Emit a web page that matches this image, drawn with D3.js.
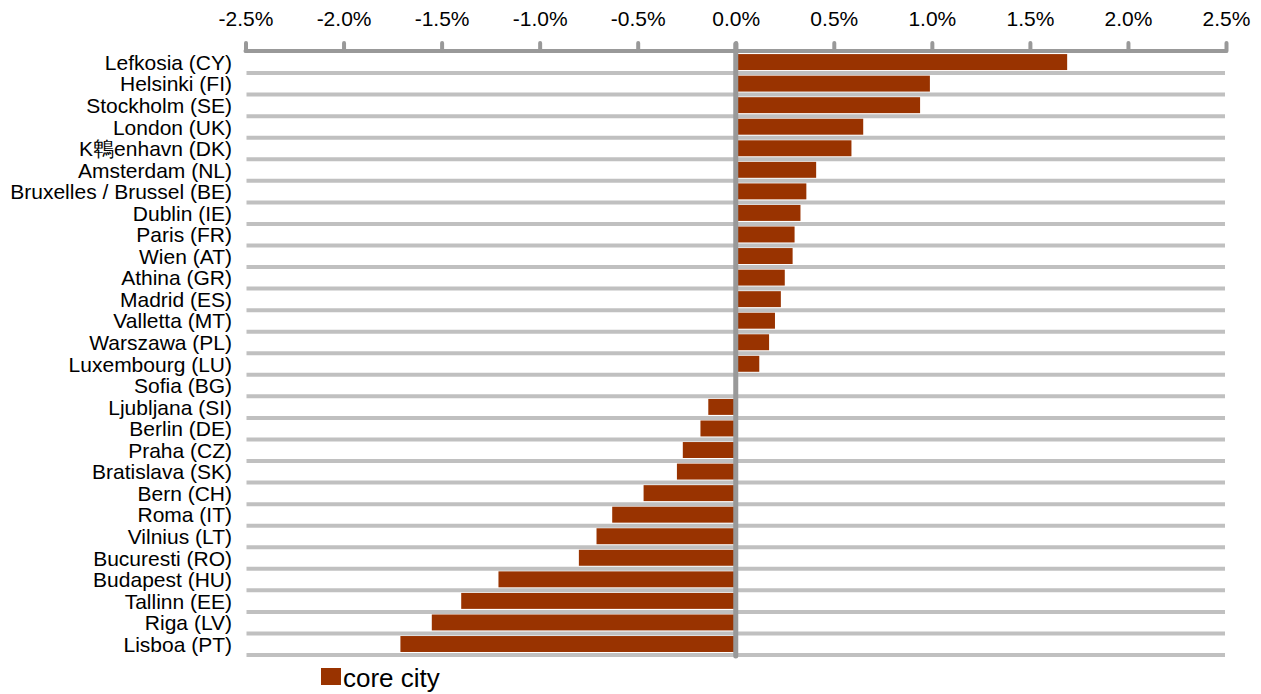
<!DOCTYPE html>
<html>
<head>
<meta charset="utf-8">
<script src="https://cdn.jsdelivr.net/npm/d3@7"></script>
<style>
  html, body { margin: 0; padding: 0; background: #fff; }
  svg { display: block; font-family: "Liberation Sans", Arial, sans-serif; }
</style>
</head>
<body>
<svg id="chart" width="1261" height="694"></svg>
<script>
// Core city cities, top to bottom
const cities = [
  "Lefkosia (CY)", "Helsinki (FI)", "Stockholm (SE)", "London (UK)", "K鵯enhavn (DK)",
  "Amsterdam (NL)", "Bruxelles / Brussel (BE)", "Dublin (IE)", "Paris (FR)", "Wien (AT)",
  "Athina (GR)", "Madrid (ES)", "Valletta (MT)", "Warszawa (PL)", "Luxembourg (LU)",
  "Sofia (BG)", "Ljubljana (SI)", "Berlin (DE)", "Praha (CZ)", "Bratislava (SK)",
  "Bern (CH)", "Roma (IT)", "Vilnius (LT)", "Bucuresti (RO)", "Budapest (HU)",
  "Tallinn (EE)", "Riga (LV)", "Lisboa (PT)"
];

// Annual change, percent
const coreCity = [
  1.69, 0.99, 0.94, 0.65, 0.59,
  0.41, 0.36, 0.33, 0.30, 0.29,
  0.25, 0.23, 0.20, 0.17, 0.12,
  0.00, -0.14, -0.18, -0.27, -0.30,
  -0.47, -0.63, -0.71, -0.80, -1.21,
  -1.40, -1.55, -1.71
];

const xTicks = [-2.5, -2.0, -1.5, -1.0, -0.5, 0.0, 0.5, 1.0, 1.5, 2.0, 2.5];
const seriesName = "core city";

const svg = d3.select("#chart");
const barColor = "#993300";
const axisColor = "#999999";
const gridColor = "#c0c0c0";

const x = d3.scaleLinear().domain([-2.5, 2.5]).range([245.5, 1226]);
const y = d3.scaleBand().domain(cities).range([51.5, 655]).padding(0);
const bw = y.bandwidth();

// category boundary gridlines
svg.append("g")
  .selectAll("line")
  .data(cities)
  .join("line")
  .attr("x1", x(-2.5) + 1)
  .attr("x2", x(2.5) - 1)
  .attr("y1", d => y(d) + bw)
  .attr("y2", d => y(d) + bw)
  .attr("stroke", gridColor)
  .attr("stroke-width", 4);

// bars
svg.append("g")
  .selectAll("rect")
  .data(cities.map((c, i) => ({ c, v: coreCity[i] })))
  .join("rect")
  .attr("x", d => x(Math.min(0, d.v)))
  .attr("width", d => Math.abs(x(d.v) - x(0)))
  .attr("y", d => y(d.c) + bw * 0.12)
  .attr("height", bw * 0.74)
  .attr("fill", barColor);

// top value axis
const xAxis = d3.axisTop(x)
  .tickValues(xTicks)
  .tickSize(8)
  .tickPadding(0)
  .tickFormat(d => d.toFixed(1) + "%");

const gx = svg.append("g")
  .attr("transform", "translate(0,51)")
  .call(xAxis);
gx.select(".domain").remove();
gx.insert("line", ":first-child")
  .attr("x1", x(-2.5)).attr("x2", x(2.5))
  .attr("y1", 0).attr("y2", 0)
  .attr("stroke", axisColor)
  .attr("stroke-width", 4)
  .attr("stroke-linecap", "round");
gx.selectAll(".tick line")
  .attr("stroke", axisColor)
  .attr("stroke-width", 4)
  .attr("stroke-linecap", "round");
gx.selectAll(".tick text")
  .attr("y", -25)
  .attr("dy", 0)
  .attr("fill", "#000")
  .style("font-size", "21px");

// zero line
svg.append("line")
  .attr("x1", x(0)).attr("x2", x(0))
  .attr("y1", 44).attr("y2", 656)
  .attr("stroke", axisColor)
  .attr("stroke-width", 5)
  .attr("stroke-linecap", "round");

// category labels
const yAxis = d3.axisLeft(y).tickSize(0).tickPadding(0);
const gy = svg.append("g")
  .attr("transform", "translate(232,0)")
  .call(yAxis);
gy.select(".domain").remove();
gy.selectAll(".tick text")
  .attr("fill", "#000")
  .attr("dy", "0.36em")
  .style("font-size", "21px");

// legend
const lg = svg.append("g").attr("transform", "translate(321,668)");
lg.append("rect").attr("width", 20).attr("height", 17).attr("fill", barColor);
lg.append("text")
  .attr("x", 22).attr("y", 19)
  .style("font-size", "26px")
  .attr("fill", "#000")
  .text(seriesName);
</script>
</body>
</html>
